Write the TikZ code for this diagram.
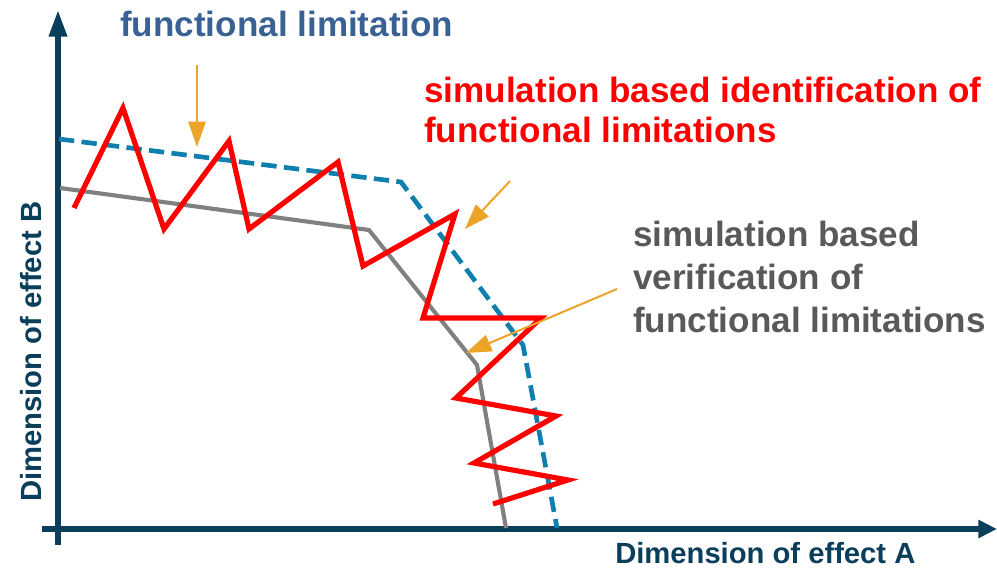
\documentclass[tikz,border=0pt]{standalone}
\usepackage{fontspec}
\setmainfont{Liberation Sans}
\usetikzlibrary{arrows.meta}
\definecolor{axisblue}{HTML}{0B3E5A}
\definecolor{titleblue}{HTML}{3A6193}
\definecolor{limitblue}{HTML}{0F80AE}
\definecolor{simred}{HTML}{FF0000}
\definecolor{linegray}{HTML}{808080}
\definecolor{textgray}{HTML}{595959}
\definecolor{hintorange}{HTML}{EBA328}
\newcommand{\labelfont}{\fontsize{26.3}{30}\selectfont\bfseries}
\newcommand{\grayfont}{\fontsize{26.3}{32.2}\selectfont\bfseries}
\newcommand{\axisfont}{\fontsize{21.9}{26}\selectfont\bfseries}
\tikzset{
  axisline/.style={line width=4.3pt, color=axisblue},
  hint/.style={line width=1.5pt, color=hintorange, -{Triangle[length=19pt, width=13pt]}},
}
\begin{document}
\begin{tikzpicture}[x=0.75pt, y=-0.75pt, every node/.style={inner sep=0pt}]
    \useasboundingbox (0,0) rectangle (997,569);

    % Achsen
    \coordinate (ybot) at (58,545);
    \coordinate (ytop) at (58,10);
    \coordinate (xleft) at (42,529);
    \coordinate (xright) at (997,529);
    \draw[axisline, -{Triangle[length=20pt, width=13pt]}] (ybot) -- (ytop);
    \draw[axisline, -{Triangle[length=14pt, width=13pt]}] (xleft) -- (xright);
    \node (xlabel) at (615,563) [anchor=base west, text=axisblue, font=\axisfont] {Dimension of effect A};
    \node (ylabel) at (41,502) [anchor=base west, rotate=90, text=axisblue, font=\axisfont] {Dimension of effect B};

    % Grenzkurven
    \draw[line width=3.1pt, color=linegray] (60,188) -- (369,230) -- (477,365) -- (506,528);
    \draw[line width=3.5pt, color=limitblue, dash pattern=on 11.5pt off 5.5pt]
      (59,139) -- (401,182) -- (523,345) -- (557,528);
    \draw[line width=3.9pt, color=simred]
      (74,208) -- (123,108) -- (164,229) -- (229,141) -- (249,229) -- (338,162)
      -- (363,266) -- (455,214) -- (423,318) -- (541,318) -- (456,398)
      -- (556,416) -- (474,463) -- (568,480) -- (493,504);

    % Beschriftungen
    \node (limit) at (120,36) [anchor=base west, text=titleblue, font=\labelfont] {functional limitation};
    \node (ident) at (424,142) [anchor=base west, align=left, text=simred, font=\labelfont]
      {simulation based identification of\\functional limitations};
    \node (verif) at (633,332) [anchor=base west, align=left, text=textgray, font=\grayfont]
      {simulation based\\verification of\\functional limitations};

    % Hinweispfeile
    \coordinate (limitfrom) at (197,65);
    \coordinate (limitto) at (197,147);
    \coordinate (identfrom) at (510,181);
    \coordinate (identto) at (465,229);
    \coordinate (veriffrom) at (617,289);
    \coordinate (verifto) at (466,353);
    \draw[hint] (limitfrom) -- (limitto);
    \draw[hint] (identfrom) -- (identto);
    \draw[hint] (veriffrom) -- (verifto);
\end{tikzpicture}
\end{document}
